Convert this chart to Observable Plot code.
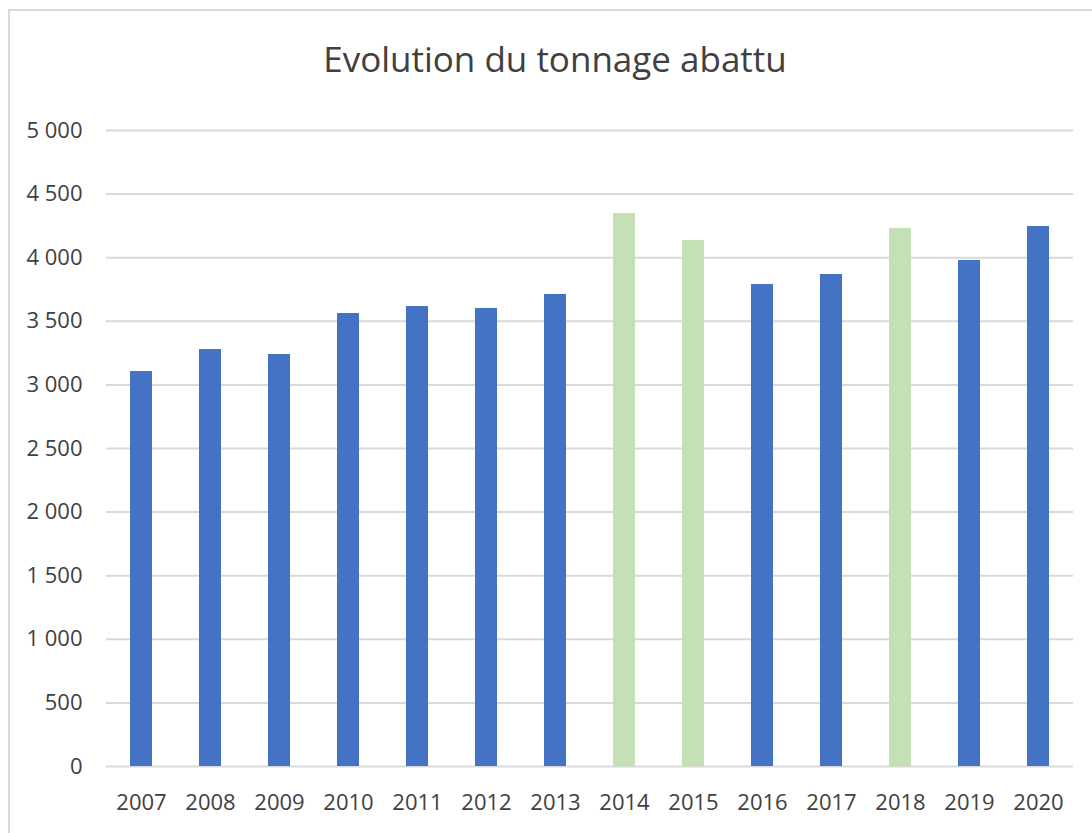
<!DOCTYPE html>
<html>
<head>
<meta charset="utf-8">
<script src="https://cdn.jsdelivr.net/npm/d3@7"></script>
<script src="https://cdn.jsdelivr.net/npm/@observablehq/plot@0.6"></script>
<style>
  html, body { margin: 0; padding: 0; background: #fff; }
  #wrap { position: relative; width: 1092px; height: 833px; overflow: hidden; }
  #frame { position: absolute; left: 8px; top: 9px; width: 1200px; height: 900px; border: 2px solid #d9d9d9; box-sizing: border-box; }
  #title { position: absolute; left: 0; top: 41px; width: 1110px; text-align: center; line-height: 1;
           font-family: "Open Sans", sans-serif; font-size: 35px; color: #404040; }
  #chart { position: absolute; left: 0; top: 0; }
</style>
</head>
<body>
<div id="wrap">
  <div id="frame"></div>
  <div id="chart"></div>
  <div id="title">Evolution du tonnage abattu</div>
</div>
<script>
const years = ["2007","2008","2009","2010","2011","2012","2013","2014","2015","2016","2017","2018","2019","2020"];
const tonnage = [3105, 3278, 3239, 3561, 3616, 3601, 3711, 4347, 4135, 3789, 3868, 4230, 3978, 4245];
const highlighted = ["2014","2015","2018"];
const yTicks = [0, 500, 1000, 1500, 2000, 2500, 3000, 3500, 4000, 4500, 5000];

const data = years.map((y, i) => ({year: y, value: tonnage[i], kind: highlighted.includes(y) ? "highlight" : "base"}));
const fr = d3.formatLocale({decimal: ",", thousands: "\u00a0", grouping: [3], currency: ["", " €"]});
const fmt = fr.format(",d");

const chart = Plot.plot({
  width: 1092,
  height: 833,
  marginLeft: 106,
  marginRight: 19,
  marginTop: 130,
  marginBottom: 67,
  style: {fontFamily: '"Open Sans", sans-serif', fontSize: "22px", color: "#404040", background: "transparent"},
  x: {domain: years, paddingInner: 0.68, paddingOuter: 0.34, label: null},
  y: {domain: [0, 5000], label: null},
  color: {domain: ["base", "highlight"], range: ["#4472C4", "#C5E0B4"]},
  marks: [
    Plot.gridY(yTicks, {stroke: "#d9d9d9", strokeOpacity: 1, strokeWidth: 2}),
    Plot.barY(data, {x: "year", y: "value", fill: "kind"}),
    Plot.axisY({ticks: yTicks, tickFormat: fmt, tickSize: 0, tickPadding: 24, label: null}),
    Plot.axisX({tickSize: 0, tickPadding: 28, label: null})
  ]
});
document.getElementById("chart").appendChild(chart);
</script>
</body>
</html>
